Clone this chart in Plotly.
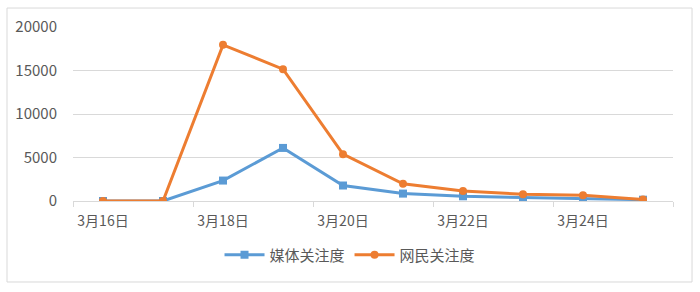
import plotly.graph_objects as go

categories = ["3月16日", "3月17日", "3月18日", "3月19日", "3月20日",
              "3月21日", "3月22日", "3月23日", "3月24日", "3月25日"]
media = [0, 0, 2350, 6100, 1780, 850, 540, 390, 310, 150]
netizen = [0, 0, 17950, 15150, 5380, 1980, 1150, 770, 660, 170]
y_ticks = [0, 5000, 10000, 15000, 20000]
y_tick_labels = ["0", "5000", "10000", "15000", "20000"]

idx = list(range(len(categories)))
label_idx = idx[::2]
label_text = [categories[i] for i in label_idx]
boundaries = [i - 0.5 for i in label_idx] + [len(categories) - 0.5]

FONT = "Noto Sans CJK SC"
TXT = "#595959"
GRID = "#d9d9d9"

fig = go.Figure()
fig.add_trace(go.Scatter(
    x=idx, y=media, name="媒体关注度", mode="lines+markers",
    line=dict(color="#5B9BD5", width=3),
    marker=dict(symbol="square", size=8, color="#5B9BD5"),
))
fig.add_trace(go.Scatter(
    x=idx, y=netizen, name="网民关注度", mode="lines+markers",
    line=dict(color="#ED7D31", width=3),
    marker=dict(symbol="circle", size=8, color="#ED7D31"),
))

xr = [-0.5, len(categories) - 0.5]
fig.update_layout(
    width=700, height=292,
    margin=dict(l=73, r=27, t=27, b=91),
    paper_bgcolor="white", plot_bgcolor="white",
    font=dict(family=FONT, color=TXT, size=14),
    showlegend=True,
    legend=dict(orientation="h", x=0.4617, xanchor="center", y=-0.31, yanchor="middle",
                font=dict(size=15, color=TXT, family=FONT), itemwidth=40,
                traceorder="normal"),
    xaxis=dict(range=xr, tickmode="array", tickvals=label_idx, ticktext=label_text,
               showgrid=False, zeroline=False, showline=True, linecolor=GRID, linewidth=1,
               ticks="outside", ticklen=7, tickcolor="rgba(0,0,0,0)",
               tickfont=dict(size=14, color=TXT, family=FONT)),
    xaxis2=dict(range=xr, overlaying="x", anchor="y", side="bottom", tickmode="array",
                tickvals=boundaries, ticktext=[""] * len(boundaries),
                ticks="outside", ticklen=5, tickcolor=GRID, showgrid=False,
                zeroline=False, showline=False, showticklabels=False),
    yaxis=dict(range=[0, 20000], tickmode="array", tickvals=y_ticks, ticktext=y_tick_labels,
               showgrid=True, gridcolor=GRID, gridwidth=1, zeroline=False,
               showline=False, ticks="outside", ticklen=12, tickcolor="rgba(0,0,0,0)",
               tickfont=dict(size=15, color=TXT, family=FONT)),
    shapes=[dict(type="rect", xref="paper", yref="paper",
                 x0=-0.11, x1=1.0317, y0=-0.4655, y1=1.109,
                 line=dict(color=GRID, width=1), fillcolor="rgba(0,0,0,0)", layer="below")],
)
fig.add_trace(go.Scatter(x=[None], y=[None], xaxis="x2", showlegend=False, hoverinfo="skip"))

fig.write_html("out.html")
